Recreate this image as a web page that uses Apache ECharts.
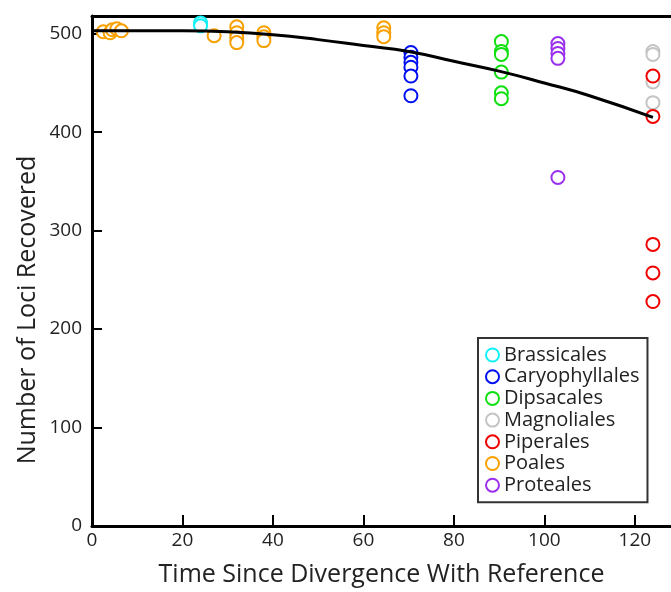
<!DOCTYPE html>
<html>
<head>
<meta charset="utf-8">
<script src="https://cdn.jsdelivr.net/npm/echarts@6/dist/echarts.min.js"></script>
<style>
  html, body { margin: 0; padding: 0; background: #fff; }
  #chart { width: 671px; height: 592px; }
</style>
</head>
<body>
<div id="chart"></div>
<script>
// points: [time, loci]
const brassicales = [[24, 511], [24, 508]]
const caryophyllales = [[70.5, 481], [70.5, 476], [70.5, 471], [70.5, 466], [70.5, 457], [70.5, 437]]
const dipsacales = [[90.5, 492], [90.5, 482], [90.5, 479], [90.5, 461], [90.5, 440], [90.5, 434]]
const magnoliales = [[124, 482], [124, 479], [124, 451], [124, 430]]
const piperales = [[124, 457], [124, 416], [124, 286], [124, 257], [124, 228]]
const poales = [
  [2.5, 502], [4, 501], [4.5, 504], [5.5, 505], [6.5, 503],
  [27, 498],
  [32, 507], [32, 501], [32, 496], [32, 491],
  [38, 501], [38, 497], [38, 493],
  [64.5, 506], [64.5, 501], [64.5, 497]
]
const proteales = [[103, 490], [103, 485], [103, 480], [103, 475], [103, 354]]

// fitted curve
const fitX = [0, 10, 20, 30, 40, 50, 60, 70, 80, 90, 100, 110, 124]
const fitY = [503, 503, 503, 502, 499, 494, 488, 482, 472, 462, 450, 437, 415]

const groups = [
  ['Brassicales', brassicales, '#10f0f8'],
  ['Caryophyllales', caryophyllales, '#0010f0'],
  ['Dipsacales', dipsacales, '#10e010'],
  ['Magnoliales', magnoliales, '#c4c4c4'],
  ['Piperales', piperales, '#f00000'],
  ['Poales', poales, '#f8a000'],
  ['Proteales', proteales, '#9a30ee'],
]

const font = '"Open Sans", sans-serif'
const chart = echarts.init(document.getElementById('chart'))

const series = groups.map(([name, data, color]) => ({
  name,
  type: 'scatter',
  data,
  symbol: 'emptyCircle',
  symbolSize: 13,
  itemStyle: { color, borderColor: color, borderWidth: 2.3, opacity: 1 },
  z: 2,
}))
series.push({
  name: 'fit',
  type: 'line',
  data: fitX.map((x, i) => [x, fitY[i]]),
  smooth: true,
  showSymbol: false,
  lineStyle: { color: '#000', width: 3 },
  z: 3,
})

const axisLine = { lineStyle: { color: '#000', width: 3 } }

chart.setOption({
  animation: false,
  textStyle: { fontFamily: font },
  grid: { left: 92, top: 16, right: 0, bottom: 65 },
  legend: {
    data: groups.map(g => g[0]),
    orient: 'vertical',
    left: 478, top: 338,
    padding: [7, 8, 7, 7],
    backgroundColor: '#fff',
    borderColor: '#333', borderWidth: 2,
    itemWidth: 13, itemHeight: 13, itemGap: 1.7,
    textStyle: { fontSize: 20, lineHeight: 20, color: '#222', fontFamily: font, padding: [0, 0, 0, 0] },
  },
  graphic: [{
    type: 'text',
    x: 28, y: 310,
    rotation: Math.PI / 2,
    style: {
      text: 'Number of Loci Recovered',
      font: '25px ' + font,
      fill: '#222',
      align: 'center',
      verticalAlign: 'middle',
    },
  }],
  xAxis: [{
    type: 'value',
    min: 0, max: 128, interval: 20,
    name: 'Time Since Divergence With Reference',
    nameLocation: 'middle', nameGap: 36,
    nameTextStyle: { fontSize: 25, color: '#222' },
    axisLine,
    axisTick: { inside: true, length: 11, lineStyle: { color: '#000', width: 2 } },
    axisLabel: { fontSize: 19, color: '#222', margin: 5, showMaxLabel: false },
    splitLine: { show: false },
  }, {
    type: 'value',
    position: 'top',
    min: 0, max: 128,
    axisLine,
    axisTick: { show: false },
    axisLabel: { show: false },
    splitLine: { show: false },
  }],
  yAxis: {
    type: 'value',
    min: 0, max: 518, interval: 100,
    axisLine,
    axisTick: { inside: true, length: 10, lineStyle: { color: '#000', width: 2 } },
    axisLabel: { fontSize: 19, color: '#222', margin: 10, showMaxLabel: false },
    splitLine: { show: false },
  },
  series,
})
</script>
</body>
</html>
